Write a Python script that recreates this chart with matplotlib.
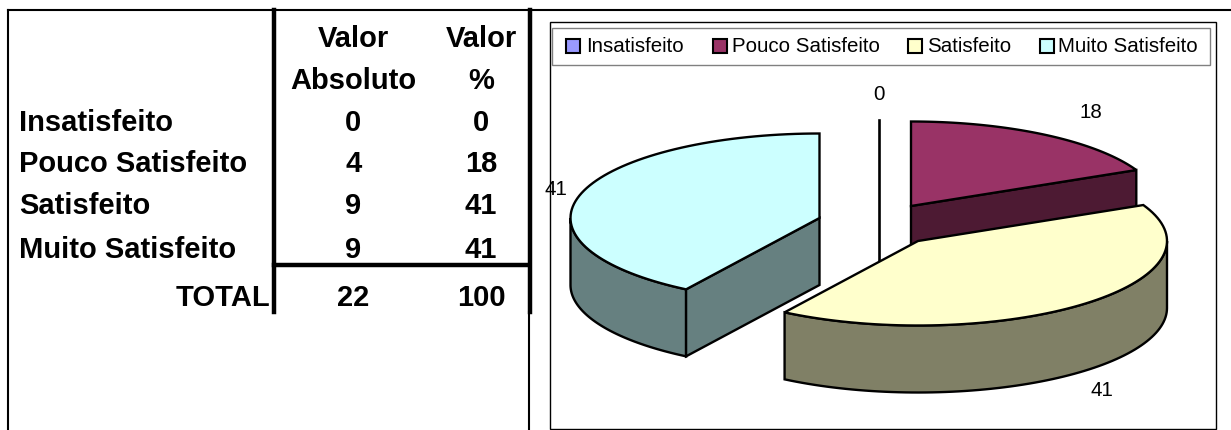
import numpy as np
import matplotlib
matplotlib.use('Agg')
import matplotlib.pyplot as plt
from matplotlib.patches import Polygon, Rectangle

plt.rcParams['font.family'] = ['Liberation Sans', 'DejaVu Sans']

categories = ['Insatisfeito', 'Pouco Satisfeito', 'Satisfeito', 'Muito Satisfeito']
absolute = [0, 4, 9, 9]
percent = [0, 18, 41, 41]
total_abs = 22
total_pct = 100

top_colors = ['#9999FF', '#993366', '#FFFFCC', '#CCFFFF']
side_colors = ['#4D4D80', '#4D1A33', '#808066', '#668080']

# pie layout, in pixels
centers = [(879, 204), (911, 206), (918, 241), (819.5, 218)]
RX = 249
RY = 84.5
DEPTH = 67
PIE_LW = 1.7

fig = plt.figure(figsize=(12.31, 4.30), dpi=100)
ax = fig.add_axes([0, 0, 1, 1])
ax.set_xlim(0, 1231)
ax.set_ylim(430, 0)
ax.axis('off')

# table rules
ax.plot([8, 1231], [10, 10], color='k', lw=1.5)
ax.plot([8, 8], [10, 430], color='k', lw=1.5)
ax.plot([274, 274], [10, 312], color='k', lw=3.2)
ax.plot([529.5, 529.5], [10, 312], color='k', lw=3.2)
ax.plot([528.5, 528.5], [312, 430], color='k', lw=1.5)
ax.plot([274, 529], [265, 265], color='k', lw=3.2)

# table text
BOLD = dict(fontsize=21, fontweight='bold', color='k')
COL1 = 353.5
COL2 = 481
rows_y = [131, 172.5, 214, 257.5]
ax.text(COL1, 47, 'Valor', ha='center', va='baseline', **BOLD)
ax.text(COL2, 47, 'Valor', ha='center', va='baseline', **BOLD)
ax.text(COL1, 89, 'Absoluto', ha='center', va='baseline', **BOLD)
ax.text(COL2, 89, '%', ha='center', va='baseline', **BOLD)
for name, a, p, y in zip(categories, absolute, percent, rows_y):
    ax.text(19, y, name, ha='left', va='baseline', **BOLD)
    ax.text(COL1, y, str(a), ha='center', va='baseline', **BOLD)
    ax.text(COL2, y, str(p), ha='center', va='baseline', **BOLD)
ax.text(270, 305.5, 'TOTAL', ha='right', va='baseline', **BOLD)
ax.text(COL1, 305.5, str(total_abs), ha='center', va='baseline', **BOLD)
ax.text(COL2, 305.5, str(total_pct), ha='center', va='baseline', **BOLD)

# chart frame and legend box
ax.add_patch(Rectangle((549.5, 21.5), 666, 407, fc='white', ec='k', lw=1.0, zorder=0.5))
ax.add_patch(Rectangle((551.5, 27.5), 658.5, 37.5, fc='white', ec='#808080', lw=1.0, zorder=0.6))
swatch_x = [566, 712.5, 907.5, 1039.5]
label_x = [586, 732, 927, 1058.5]
for name, col, sx, lx in zip(categories, top_colors, swatch_x, label_x):
    ax.add_patch(Rectangle((sx, 39), 14, 14, fc=col, ec='k', lw=1.5))
    ax.text(lx, 47, name, ha='left', va='center', fontsize=14.8, color='k')


def rim(c, a0, a1, dy=0.0):
    t = np.radians(np.linspace(a0, a1, 80))
    return np.column_stack([c[0] + RX * np.sin(t), c[1] - RY * np.cos(t) + dy])


def cut_face(i, a):
    c = centers[i]
    p = rim(c, a, a)[0]
    ax.add_patch(Polygon([c, p, (p[0], p[1] + DEPTH), (c[0], c[1] + DEPTH)],
                         fc=side_colors[i], ec='k', lw=PIE_LW))


def draw_slice(i, a0, a1):
    c = centers[i]
    # outer wall, only the part facing the viewer (90 to 270 degrees)
    w0, w1 = max(a0, 90), min(a1, 270)
    if w1 > w0:
        top = rim(c, w0, w1)
        bottom = rim(c, w0, w1, DEPTH)
        ax.add_patch(Polygon(np.vstack([top, bottom[::-1]]), fc=side_colors[i], ec='k', lw=PIE_LW))
    # cut faces that turn towards the viewer
    if 180 < a0 < 360:
        cut_face(i, a0)
    if 0 < a1 < 180:
        cut_face(i, a1)
    ax.add_patch(Polygon(np.vstack([[c], rim(c, a0, a1)]), fc=top_colors[i], ec='k', lw=PIE_LW))


shares = np.array(percent) / 100
ends = np.cumsum(shares) * 360
starts = np.concatenate([[0], ends[:-1]])

# zero slice is just a line
c0 = centers[0]
ax.plot([c0[0], c0[0]], [c0[1] - RY, c0[1] + DEPTH], color='k', lw=1.9, zorder=0.9)
draw_slice(1, starts[1], ends[1])
draw_slice(3, starts[3], ends[3])
draw_slice(2, starts[2], ends[2])

label_pos = [(879, 94.5), (1091, 112.5), (1102, 390.5), (556, 189.5)]
for p, (x, y) in zip(percent, label_pos):
    ax.text(x, y, str(p), ha='center', va='center', fontsize=14.8, color='k')

fig.savefig('out.png', dpi=100, facecolor='white')
